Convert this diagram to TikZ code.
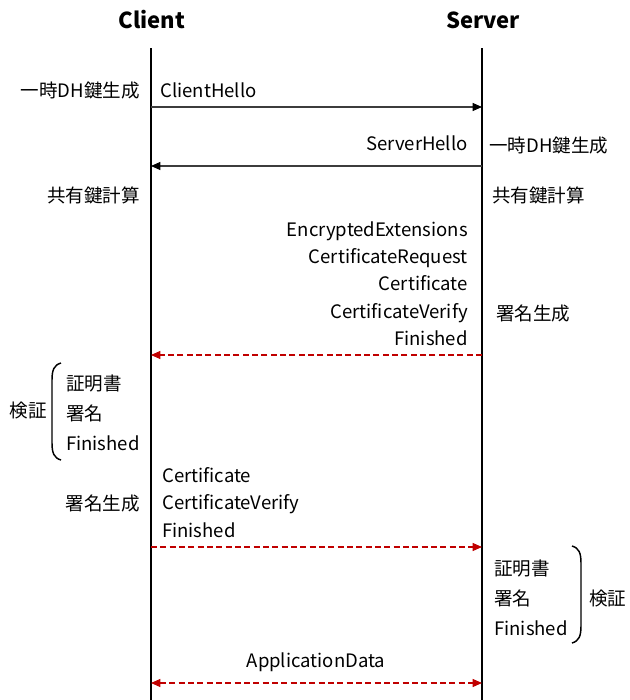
\documentclass[tikz,border=0pt]{standalone}
\usepackage{fontspec}
\setmainfont{Noto Sans CJK JP}
\usetikzlibrary{arrows.meta}
\definecolor{dred}{RGB}{192,0,0}
\definecolor{lgray}{RGB}{60,60,60}
\tikzset{
  txt/.style={inner sep=0pt, font=\fontsize{13.9}{16}\selectfont, anchor=base},
  hdr/.style={inner sep=0pt, font=\fontsize{16.5}{19}\selectfont\bfseries, anchor=base},
  life/.style={line width=1.1pt, black},
  msg/.style={line width=0.8pt, lgray, -{Triangle[length=7pt,width=6pt,black]}},
  dmsg/.style={line width=0.8pt, dred, dash pattern=on 4.5pt off 2.5pt, -{Triangle[length=7pt,width=6pt]}},
  dmsgb/.style={line width=0.8pt, dred, dash pattern=on 4.5pt off 2.5pt, {Triangle[length=7pt,width=6pt]}-{Triangle[length=7pt,width=6pt]}},
  brace/.style={line width=1.1pt, black, rounded corners=0pt}
}
\begin{document}
\begin{tikzpicture}[x=0.75pt,y=-0.75pt]
\useasboundingbox (0,0) rectangle (629,700);
% headers
\node[hdr] (client) at (152,28) {Client};
\node[hdr] (server) at (483,28) {Server};
% lifelines
\coordinate (ctop) at (151,48);
\coordinate (cbot) at (151,700);
\coordinate (stop) at (482,48);
\coordinate (sbot) at (482,700);
\draw[life] (ctop) -- (cbot);
\draw[life] (stop) -- (sbot);
% ClientHello
\node[txt,anchor=base east] (l1) at (140,97) {一時DH鍵生成};
\node[txt,anchor=base west] (ch) at (160,97) {ClientHello};
\coordinate (a1s) at (151,107);
\coordinate (a1e) at (482,107);
\draw[msg] (a1s) -- (a1e);
% ServerHello
\node[txt,anchor=base east] (sh) at (468,150) {ServerHello};
\node[txt,anchor=base west] (r1) at (489,152) {一時DH鍵生成};
\coordinate (a2s) at (482,166);
\coordinate (a2e) at (151,166);
\draw[msg] (a2s) -- (a2e);
% shared key
\node[txt,anchor=base east] (l2) at (140,202) {共有鍵計算};
\node[txt,anchor=base west] (r2) at (492,202) {共有鍵計算};
% server flight
\node[txt,anchor=base east] (m1) at (468,236) {EncryptedExtensions};
\node[txt,anchor=base east] (m2) at (468,263) {CertificateRequest};
\node[txt,anchor=base east] (m3) at (468,290) {Certificate};
\node[txt,anchor=base east] (m4) at (468,318) {CertificateVerify};
\node[txt,anchor=base east] (m5) at (468,345) {Finished};
\node[txt,anchor=base west] (r3) at (496,320) {署名生成};
\coordinate (a3s) at (482,355);
\coordinate (a3e) at (151,355);
\draw[dmsg] (a3s) -- (a3e);
% client verify
\node[txt,anchor=base west] (v1) at (66,390) {証明書};
\node[txt,anchor=base west] (v2) at (66,420) {署名};
\node[txt,anchor=base west] (v3) at (66,450) {Finished};
\node[txt,anchor=base east] (vl) at (47,417) {検証};
\draw[brace] (61,363) .. controls (54,365) and (52,370) .. (52,380) -- (52,443) .. controls (52,453) and (54,458) .. (61,460);
% client flight
\node[txt,anchor=base west] (c1) at (162,482) {Certificate};
\node[txt,anchor=base west] (c2) at (162,509) {CertificateVerify};
\node[txt,anchor=base west] (c3) at (162,537) {Finished};
\node[txt,anchor=base east] (l3) at (140,510) {署名生成};
\coordinate (a4s) at (151,547);
\coordinate (a4e) at (482,547);
\draw[dmsg] (a4s) -- (a4e);
% server verify
\node[txt,anchor=base west] (w1) at (494,575) {証明書};
\node[txt,anchor=base west] (w2) at (494,605) {署名};
\node[txt,anchor=base west] (w3) at (494,635) {Finished};
\node[txt,anchor=base west] (wl) at (589,605) {検証};
\draw[brace] (572,546) .. controls (579,548) and (581,553) .. (581,563) -- (581,626) .. controls (581,636) and (579,641) .. (572,643);
% application data
\node[txt] (ad) at (316,667) {ApplicationData};
\coordinate (a5s) at (151,683);
\coordinate (a5e) at (482,683);
\draw[dmsgb] (a5s) -- (a5e);
\end{tikzpicture}
\end{document}
